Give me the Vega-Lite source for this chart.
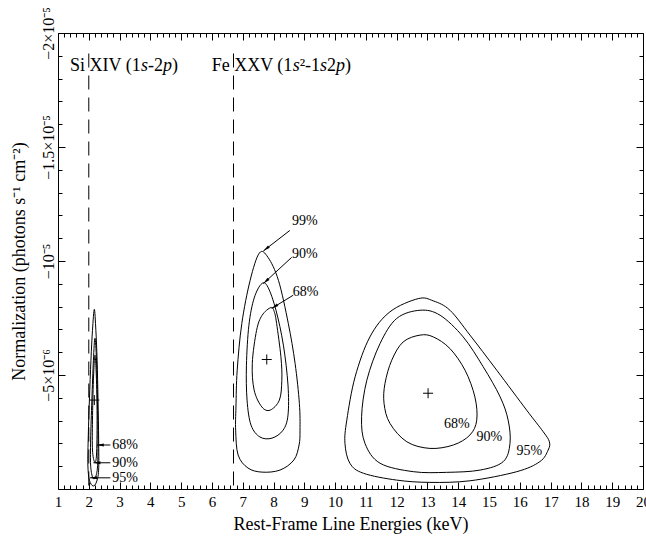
{
  "$schema": "https://vega.github.io/schema/vega-lite/v6.json",
  "width": 585,
  "height": 456,
  "autosize": {"type": "none"},
  "padding": {"left": 58, "top": 33, "right": 3, "bottom": 48},
  "background": "white",
  "config": {
    "view": {"stroke": "black", "strokeWidth": 1},
    "axis": {
      "labelFont": "Liberation Serif",
      "titleFont": "Liberation Serif",
      "labelColor": "black",
      "titleColor": "black",
      "tickColor": "black",
      "tickWidth": 1,
      "domain": false,
      "grid": false,
      "titleFontWeight": "normal",
      "labelFlush": false,
      "labelOverlap": false
    },
    "text": {"font": "Liberation Serif", "color": "black"}
  },
  "datasets": {
    "contours": [
      {"line": "Fe XXV 95%", "i": 0, "energy": 12.70, "norm": -8.35e-6},
      {"line": "Fe XXV 95%", "i": 1, "energy": 11.78, "norm": -7.77e-6},
      {"line": "Fe XXV 95%", "i": 2, "energy": 11.13, "norm": -6.67e-6},
      {"line": "Fe XXV 95%", "i": 3, "energy": 10.65, "norm": -4.92e-6},
      {"line": "Fe XXV 95%", "i": 4, "energy": 10.38, "norm": -3.02e-6},
      {"line": "Fe XXV 95%", "i": 5, "energy": 10.32, "norm": -2.00e-6},
      {"line": "Fe XXV 95%", "i": 6, "energy": 10.48, "norm": -1.13e-6},
      {"line": "Fe XXV 95%", "i": 7, "energy": 10.92, "norm": -0.69e-6},
      {"line": "Fe XXV 95%", "i": 8, "energy": 12.00, "norm": -0.39e-6},
      {"line": "Fe XXV 95%", "i": 9, "energy": 13.08, "norm": -0.29e-6},
      {"line": "Fe XXV 95%", "i": 10, "energy": 14.38, "norm": -0.36e-6},
      {"line": "Fe XXV 95%", "i": 11, "energy": 15.90, "norm": -0.76e-6},
      {"line": "Fe XXV 95%", "i": 12, "energy": 16.65, "norm": -1.20e-6},
      {"line": "Fe XXV 95%", "i": 13, "energy": 16.92, "norm": -1.71e-6},
      {"line": "Fe XXV 95%", "i": 14, "energy": 16.96, "norm": -2.07e-6},
      {"line": "Fe XXV 95%", "i": 15, "energy": 16.76, "norm": -2.51e-6},
      {"line": "Fe XXV 95%", "i": 16, "energy": 16.22, "norm": -3.46e-6},
      {"line": "Fe XXV 95%", "i": 17, "energy": 15.25, "norm": -5.21e-6},
      {"line": "Fe XXV 95%", "i": 18, "energy": 14.38, "norm": -6.75e-6},
      {"line": "Fe XXV 95%", "i": 19, "energy": 13.73, "norm": -7.84e-6},
      {"line": "Fe XXV 95%", "i": 20, "energy": 13.19, "norm": -8.25e-6},

      {"line": "Fe XXV 90%", "i": 0, "energy": 12.76, "norm": -7.84e-6},
      {"line": "Fe XXV 90%", "i": 1, "energy": 12.00, "norm": -7.48e-6},
      {"line": "Fe XXV 90%", "i": 2, "energy": 11.46, "norm": -6.38e-6},
      {"line": "Fe XXV 90%", "i": 3, "energy": 11.03, "norm": -4.77e-6},
      {"line": "Fe XXV 90%", "i": 4, "energy": 10.86, "norm": -3.17e-6},
      {"line": "Fe XXV 90%", "i": 5, "energy": 10.97, "norm": -2.00e-6},
      {"line": "Fe XXV 90%", "i": 6, "energy": 11.46, "norm": -1.13e-6},
      {"line": "Fe XXV 90%", "i": 7, "energy": 12.54, "norm": -0.76e-6},
      {"line": "Fe XXV 90%", "i": 8, "energy": 13.62, "norm": -0.73e-6},
      {"line": "Fe XXV 90%", "i": 9, "energy": 14.71, "norm": -0.83e-6},
      {"line": "Fe XXV 90%", "i": 10, "energy": 15.46, "norm": -1.20e-6},
      {"line": "Fe XXV 90%", "i": 11, "energy": 15.68, "norm": -2.00e-6},
      {"line": "Fe XXV 90%", "i": 12, "energy": 15.62, "norm": -3.02e-6},
      {"line": "Fe XXV 90%", "i": 13, "energy": 15.36, "norm": -4.04e-6},
      {"line": "Fe XXV 90%", "i": 14, "energy": 14.81, "norm": -5.36e-6},
      {"line": "Fe XXV 90%", "i": 15, "energy": 14.16, "norm": -6.67e-6},
      {"line": "Fe XXV 90%", "i": 16, "energy": 13.41, "norm": -7.62e-6},

      {"line": "Fe XXV 68%", "i": 0, "energy": 12.76, "norm": -6.75e-6},
      {"line": "Fe XXV 68%", "i": 1, "energy": 12.21, "norm": -6.45e-6},
      {"line": "Fe XXV 68%", "i": 2, "energy": 11.84, "norm": -5.65e-6},
      {"line": "Fe XXV 68%", "i": 3, "energy": 11.62, "norm": -4.63e-6},
      {"line": "Fe XXV 68%", "i": 4, "energy": 11.59, "norm": -3.75e-6},
      {"line": "Fe XXV 68%", "i": 5, "energy": 11.78, "norm": -2.88e-6},
      {"line": "Fe XXV 68%", "i": 6, "energy": 12.33, "norm": -2.07e-6},
      {"line": "Fe XXV 68%", "i": 7, "energy": 13.08, "norm": -1.78e-6},
      {"line": "Fe XXV 68%", "i": 8, "energy": 13.84, "norm": -1.93e-6},
      {"line": "Fe XXV 68%", "i": 9, "energy": 14.38, "norm": -2.37e-6},
      {"line": "Fe XXV 68%", "i": 10, "energy": 14.60, "norm": -3.02e-6},
      {"line": "Fe XXV 68%", "i": 11, "energy": 14.54, "norm": -4.04e-6},
      {"line": "Fe XXV 68%", "i": 12, "energy": 14.22, "norm": -5.21e-6},
      {"line": "Fe XXV 68%", "i": 13, "energy": 13.73, "norm": -6.16e-6},
      {"line": "Fe XXV 68%", "i": 14, "energy": 13.19, "norm": -6.67e-6},

      {"line": "6.7 keV 99%", "i": 0, "energy": 7.54, "norm": -10.35e-6},
      {"line": "6.7 keV 99%", "i": 1, "energy": 7.24, "norm": -9.15e-6},
      {"line": "6.7 keV 99%", "i": 2, "energy": 6.97, "norm": -7.26e-6},
      {"line": "6.7 keV 99%", "i": 3, "energy": 6.82, "norm": -5.21e-6},
      {"line": "6.7 keV 99%", "i": 4, "energy": 6.78, "norm": -3.60e-6},
      {"line": "6.7 keV 99%", "i": 5, "energy": 6.77, "norm": -2.58e-6},
      {"line": "6.7 keV 99%", "i": 6, "energy": 6.85, "norm": -1.49e-6},
      {"line": "6.7 keV 99%", "i": 7, "energy": 7.17, "norm": -0.92e-6},
      {"line": "6.7 keV 99%", "i": 8, "energy": 7.63, "norm": -0.74e-6},
      {"line": "6.7 keV 99%", "i": 9, "energy": 8.21, "norm": -0.83e-6},
      {"line": "6.7 keV 99%", "i": 10, "energy": 8.66, "norm": -1.27e-6},
      {"line": "6.7 keV 99%", "i": 11, "energy": 8.83, "norm": -1.93e-6},
      {"line": "6.7 keV 99%", "i": 12, "energy": 8.86, "norm": -2.58e-6},
      {"line": "6.7 keV 99%", "i": 13, "energy": 8.84, "norm": -3.75e-6},
      {"line": "6.7 keV 99%", "i": 14, "energy": 8.70, "norm": -5.51e-6},
      {"line": "6.7 keV 99%", "i": 15, "energy": 8.48, "norm": -7.26e-6},
      {"line": "6.7 keV 99%", "i": 16, "energy": 8.16, "norm": -9.15e-6},
      {"line": "6.7 keV 99%", "i": 17, "energy": 7.82, "norm": -10.16e-6},

      {"line": "6.7 keV 90%", "i": 0, "energy": 7.62, "norm": -9.01e-6},
      {"line": "6.7 keV 90%", "i": 1, "energy": 7.37, "norm": -8.37e-6},
      {"line": "6.7 keV 90%", "i": 2, "energy": 7.20, "norm": -7.18e-6},
      {"line": "6.7 keV 90%", "i": 3, "energy": 7.12, "norm": -5.43e-6},
      {"line": "6.7 keV 90%", "i": 4, "energy": 7.14, "norm": -3.90e-6},
      {"line": "6.7 keV 90%", "i": 5, "energy": 7.27, "norm": -2.80e-6},
      {"line": "6.7 keV 90%", "i": 6, "energy": 7.56, "norm": -2.28e-6},
      {"line": "6.7 keV 90%", "i": 7, "energy": 7.95, "norm": -2.23e-6},
      {"line": "6.7 keV 90%", "i": 8, "energy": 8.31, "norm": -2.58e-6},
      {"line": "6.7 keV 90%", "i": 9, "energy": 8.47, "norm": -3.24e-6},
      {"line": "6.7 keV 90%", "i": 10, "energy": 8.47, "norm": -4.56e-6},
      {"line": "6.7 keV 90%", "i": 11, "energy": 8.32, "norm": -6.31e-6},
      {"line": "6.7 keV 90%", "i": 12, "energy": 8.08, "norm": -7.84e-6},
      {"line": "6.7 keV 90%", "i": 13, "energy": 7.82, "norm": -8.85e-6},

      {"line": "6.7 keV 68%", "i": 0, "energy": 7.92, "norm": -7.96e-6},
      {"line": "6.7 keV 68%", "i": 1, "energy": 7.63, "norm": -7.62e-6},
      {"line": "6.7 keV 68%", "i": 2, "energy": 7.45, "norm": -6.96e-6},
      {"line": "6.7 keV 68%", "i": 3, "energy": 7.31, "norm": -5.51e-6},
      {"line": "6.7 keV 68%", "i": 4, "energy": 7.37, "norm": -4.34e-6},
      {"line": "6.7 keV 68%", "i": 5, "energy": 7.62, "norm": -3.60e-6},
      {"line": "6.7 keV 68%", "i": 6, "energy": 7.89, "norm": -3.46e-6},
      {"line": "6.7 keV 68%", "i": 7, "energy": 8.19, "norm": -3.90e-6},
      {"line": "6.7 keV 68%", "i": 8, "energy": 8.27, "norm": -4.77e-6},
      {"line": "6.7 keV 68%", "i": 9, "energy": 8.24, "norm": -5.80e-6},
      {"line": "6.7 keV 68%", "i": 10, "energy": 8.10, "norm": -7.26e-6},
      {"line": "6.7 keV 68%", "i": 11, "energy": 8.03, "norm": -7.75e-6},

      {"line": "Si 95%", "i": 0, "energy": 2.18, "norm": -7.88e-6},
      {"line": "Si 95%", "i": 1, "energy": 2.12, "norm": -6.96e-6},
      {"line": "Si 95%", "i": 2, "energy": 2.07, "norm": -5.65e-6},
      {"line": "Si 95%", "i": 3, "energy": 2.02, "norm": -3.90e-6},
      {"line": "Si 95%", "i": 4, "energy": 1.98, "norm": -2.15e-6},
      {"line": "Si 95%", "i": 5, "energy": 1.97, "norm": -1.05e-6},
      {"line": "Si 95%", "i": 6, "energy": 2.02, "norm": -0.39e-6},
      {"line": "Si 95%", "i": 7, "energy": 2.14, "norm": -0.13e-6},
      {"line": "Si 95%", "i": 8, "energy": 2.25, "norm": -0.31e-6},
      {"line": "Si 95%", "i": 9, "energy": 2.32, "norm": -0.83e-6},
      {"line": "Si 95%", "i": 10, "energy": 2.32, "norm": -2.15e-6},
      {"line": "Si 95%", "i": 11, "energy": 2.30, "norm": -3.90e-6},
      {"line": "Si 95%", "i": 12, "energy": 2.27, "norm": -5.65e-6},
      {"line": "Si 95%", "i": 13, "energy": 2.23, "norm": -6.96e-6},

      {"line": "Si 90%", "i": 0, "energy": 2.20, "norm": -6.61e-6},
      {"line": "Si 90%", "i": 1, "energy": 2.15, "norm": -5.65e-6},
      {"line": "Si 90%", "i": 2, "energy": 2.10, "norm": -3.90e-6},
      {"line": "Si 90%", "i": 3, "energy": 2.06, "norm": -2.15e-6},
      {"line": "Si 90%", "i": 4, "energy": 2.06, "norm": -1.05e-6},
      {"line": "Si 90%", "i": 5, "energy": 2.12, "norm": -0.53e-6},
      {"line": "Si 90%", "i": 6, "energy": 2.20, "norm": -0.48e-6},
      {"line": "Si 90%", "i": 7, "energy": 2.28, "norm": -0.92e-6},
      {"line": "Si 90%", "i": 8, "energy": 2.30, "norm": -2.15e-6},
      {"line": "Si 90%", "i": 9, "energy": 2.28, "norm": -3.90e-6},
      {"line": "Si 90%", "i": 10, "energy": 2.25, "norm": -5.65e-6},

      {"line": "Si 68%", "i": 0, "energy": 2.20, "norm": -5.87e-6},
      {"line": "Si 68%", "i": 1, "energy": 2.15, "norm": -4.77e-6},
      {"line": "Si 68%", "i": 2, "energy": 2.12, "norm": -3.02e-6},
      {"line": "Si 68%", "i": 3, "energy": 2.12, "norm": -1.71e-6},
      {"line": "Si 68%", "i": 4, "energy": 2.19, "norm": -1.18e-6},
      {"line": "Si 68%", "i": 5, "energy": 2.25, "norm": -1.49e-6},
      {"line": "Si 68%", "i": 6, "energy": 2.27, "norm": -3.02e-6},
      {"line": "Si 68%", "i": 7, "energy": 2.25, "norm": -4.77e-6}
    ],
    "bestfit": [
      {"line": "Si", "energy": 2.18, "norm": -3.90e-6},
      {"line": "6.7 keV", "energy": 7.78, "norm": -5.68e-6},
      {"line": "Fe XXV", "energy": 13.02, "norm": -4.20e-6}
    ],
    "lines": [
      {"ion": "Si XIV (1s-2p)", "energy": 2.0, "top": -1.91e-5, "bottom": 0},
      {"ion": "Fe XXV (1s²-1s2p)", "energy": 6.7, "top": -1.91e-5, "bottom": 0}
    ],
    "ions_upright": [
      {"text": "Si XIV (1", "energy": 1.390, "norm": -1.833e-5},
      {"text": "-2", "energy": 3.923, "norm": -1.833e-5},
      {"text": ")", "energy": 4.703, "norm": -1.833e-5},
      {"text": "Fe XXV (1", "energy": 5.992, "norm": -1.833e-5},
      {"text": "²-1", "energy": 8.850, "norm": -1.833e-5},
      {"text": "2", "energy": 9.740, "norm": -1.833e-5},
      {"text": ")", "energy": 10.325, "norm": -1.833e-5}
    ],
    "ions_italic": [
      {"text": "s", "energy": 3.696, "norm": -1.833e-5},
      {"text": "p", "energy": 4.410, "norm": -1.833e-5},
      {"text": "s", "energy": 8.623, "norm": -1.833e-5},
      {"text": "s", "energy": 9.513, "norm": -1.833e-5},
      {"text": "p", "energy": 10.032, "norm": -1.833e-5}
    ],
    "arrows": [
      {"arrow": "Si 68%", "i": 0, "energy": 2.70, "norm": -1.93e-6},
      {"arrow": "Si 68%", "i": 1, "energy": 2.26, "norm": -1.93e-6},
      {"arrow": "Si 90%", "i": 0, "energy": 2.70, "norm": -1.15e-6},
      {"arrow": "Si 90%", "i": 1, "energy": 2.15, "norm": -1.15e-6},
      {"arrow": "Si 95%", "i": 0, "energy": 2.70, "norm": -0.49e-6},
      {"arrow": "Si 95%", "i": 1, "energy": 2.04, "norm": -0.49e-6},
      {"arrow": "6.7 99%", "i": 0, "energy": 8.53, "norm": -11.34e-6},
      {"arrow": "6.7 99%", "i": 1, "energy": 7.67, "norm": -10.44e-6},
      {"arrow": "6.7 90%", "i": 0, "energy": 8.59, "norm": -10.16e-6},
      {"arrow": "6.7 90%", "i": 1, "energy": 7.67, "norm": -9.01e-6},
      {"arrow": "6.7 68%", "i": 0, "energy": 8.64, "norm": -8.50e-6},
      {"arrow": "6.7 68%", "i": 1, "energy": 7.94, "norm": -7.92e-6}
    ],
    "heads": [
      {"arrow": "Si 68%", "energy": 2.26, "norm": -1.93e-6, "angle": 270},
      {"arrow": "Si 90%", "energy": 2.15, "norm": -1.15e-6, "angle": 270},
      {"arrow": "Si 95%", "energy": 2.04, "norm": -0.49e-6, "angle": 270},
      {"arrow": "6.7 99%", "energy": 7.67, "norm": -10.44e-6, "angle": 232},
      {"arrow": "6.7 90%", "energy": 7.67, "norm": -9.01e-6, "angle": 227},
      {"arrow": "6.7 68%", "energy": 7.94, "norm": -7.92e-6, "angle": 238}
    ],
    "levels": [
      {"text": "68%", "energy": 3.18, "norm": -1.93e-6},
      {"text": "90%", "energy": 3.18, "norm": -1.15e-6},
      {"text": "95%", "energy": 3.18, "norm": -0.49e-6},
      {"text": "99%", "energy": 9.02, "norm": -11.74e-6},
      {"text": "90%", "energy": 9.02, "norm": -10.32e-6},
      {"text": "68%", "energy": 9.04, "norm": -8.66e-6},
      {"text": "68%", "energy": 13.95, "norm": -2.85e-6},
      {"text": "90%", "energy": 15.01, "norm": -2.29e-6},
      {"text": "95%", "energy": 16.31, "norm": -1.66e-6}
    ]
  },
  "resolve": {"axis": {"x": "independent", "y": "independent"}},
  "layer": [
    {
      "data": {"name": "contours"},
      "mark": {"type": "line", "interpolate": "cardinal-closed", "stroke": "black", "strokeWidth": 1},
      "encoding": {
        "x": {"field": "energy", "type": "quantitative", "scale": {"domain": [1, 20], "nice": false, "zero": false},
          "axis": {"orient": "bottom", "values": [1,2,3,4,5,6,7,8,9,10,11,12,13,14,15,16,17,18,19,20], "tickSize": -7, "labelPadding": 12, "labelFontSize": 15, "format": "d",
            "title": "Rest-Frame Line Energies (keV)", "titleFontSize": 18, "titlePadding": 6}},
        "y": {"field": "norm", "type": "quantitative", "scale": {"domain": [-2e-5, 0], "reverse": true, "nice": false, "zero": false},
          "axis": {"orient": "left", "values": [-2e-5, -1.5e-5, -1e-5, -5e-6], "tickSize": -7, "labelPadding": 9, "labelFontSize": 16,
            "labelAngle": -90, "labelAlign": "center", "labelBaseline": "bottom",
            "labelExpr": "datum.value < -1.9e-5 ? '−2×10⁻⁵' : datum.value < -1.4e-5 ? '−1.5×10⁻⁵' : datum.value < -0.9e-5 ? '−10⁻⁵' : '−5×10⁻⁶'",
            "title": "Normalization (photons s⁻¹ cm⁻²)", "titleFontSize": 18, "titlePadding": 12}},
        "detail": {"field": "line"},
        "order": {"field": "i", "type": "quantitative"}
      }
    },
    {
      "data": {"name": "lines"},
      "mark": {"type": "rule", "stroke": "black", "strokeWidth": 1, "strokeDash": [14, 8]},
      "encoding": {
        "x": {"field": "energy", "type": "quantitative", "scale": {"domain": [1, 20], "nice": false, "zero": false},
          "axis": {"orient": "bottom", "values": [1.2,1.4,1.6,1.8,2.2,2.4,2.6,2.8,3.2,3.4,3.6,3.8,4.2,4.4,4.6,4.8,5.2,5.4,5.6,5.8,6.2,6.4,6.6,6.8,7.2,7.4,7.6,7.8,8.2,8.4,8.6,8.8,9.2,9.4,9.6,9.8,10.2,10.4,10.6,10.8,11.2,11.4,11.6,11.8,12.2,12.4,12.6,12.8,13.2,13.4,13.6,13.8,14.2,14.4,14.6,14.8,15.2,15.4,15.6,15.8,16.2,16.4,16.6,16.8,17.2,17.4,17.6,17.8,18.2,18.4,18.6,18.8,19.2,19.4,19.6,19.8], "tickSize": -4, "labels": false, "title": null}},
        "y": {"field": "top", "type": "quantitative", "scale": {"domain": [-2e-5, 0], "reverse": true, "nice": false, "zero": false},
          "axis": {"orient": "left", "values": [-1.9e-5,-1.8e-5,-1.7e-5,-1.6e-5,-1.4e-5,-1.3e-5,-1.2e-5,-1.1e-5,-9e-6,-8e-6,-7e-6,-6e-6,-4e-6,-3e-6,-2e-6,-1e-6], "tickSize": -4, "labels": false, "title": null}},
        "y2": {"field": "bottom"}
      }
    },
    {
      "data": {"name": "bestfit"},
      "mark": {"type": "point", "shape": "M-1,0L1,0M0,-1L0,1", "size": 100, "filled": false, "stroke": "black", "strokeWidth": 1, "opacity": 1},
      "encoding": {
        "x": {"field": "energy", "type": "quantitative", "scale": {"domain": [1, 20], "nice": false, "zero": false},
          "axis": {"orient": "top", "values": [1,2,3,4,5,6,7,8,9,10,11,12,13,14,15,16,17,18,19,20], "tickSize": -7, "labels": false, "title": null}},
        "y": {"field": "norm", "type": "quantitative", "scale": {"domain": [-2e-5, 0], "reverse": true, "nice": false, "zero": false},
          "axis": {"orient": "right", "values": [-2e-5, -1.5e-5, -1e-5, -5e-6], "tickSize": -7, "labels": false, "title": null}}
      }
    },
    {
      "data": {"name": "arrows"},
      "mark": {"type": "line", "stroke": "black", "strokeWidth": 1},
      "encoding": {
        "x": {"field": "energy", "type": "quantitative", "scale": {"domain": [1, 20], "nice": false, "zero": false},
          "axis": {"orient": "top", "values": [1.2,1.4,1.6,1.8,2.2,2.4,2.6,2.8,3.2,3.4,3.6,3.8,4.2,4.4,4.6,4.8,5.2,5.4,5.6,5.8,6.2,6.4,6.6,6.8,7.2,7.4,7.6,7.8,8.2,8.4,8.6,8.8,9.2,9.4,9.6,9.8,10.2,10.4,10.6,10.8,11.2,11.4,11.6,11.8,12.2,12.4,12.6,12.8,13.2,13.4,13.6,13.8,14.2,14.4,14.6,14.8,15.2,15.4,15.6,15.8,16.2,16.4,16.6,16.8,17.2,17.4,17.6,17.8,18.2,18.4,18.6,18.8,19.2,19.4,19.6,19.8], "tickSize": -4, "labels": false, "title": null}},
        "y": {"field": "norm", "type": "quantitative", "scale": {"domain": [-2e-5, 0], "reverse": true, "nice": false, "zero": false},
          "axis": {"orient": "right", "values": [-1.9e-5,-1.8e-5,-1.7e-5,-1.6e-5,-1.4e-5,-1.3e-5,-1.2e-5,-1.1e-5,-9e-6,-8e-6,-7e-6,-6e-6,-4e-6,-3e-6,-2e-6,-1e-6], "tickSize": -4, "labels": false, "title": null}},
        "detail": {"field": "arrow"},
        "order": {"field": "i", "type": "quantitative"}
      }
    },
    {
      "data": {"name": "heads"},
      "mark": {"type": "point", "shape": "M0,0L1.5,7L-1.5,7Z", "size": 4, "filled": true, "fill": "black", "strokeWidth": 0, "opacity": 1},
      "encoding": {
        "x": {"field": "energy", "type": "quantitative", "scale": {"domain": [1, 20], "nice": false, "zero": false}, "axis": null},
        "y": {"field": "norm", "type": "quantitative", "scale": {"domain": [-2e-5, 0], "reverse": true, "nice": false, "zero": false}, "axis": null},
        "angle": {"field": "angle", "type": "quantitative", "scale": null}
      }
    },
    {
      "data": {"name": "levels"},
      "mark": {"type": "text", "fontSize": 14, "align": "center", "baseline": "middle"},
      "encoding": {
        "x": {"field": "energy", "type": "quantitative", "scale": {"domain": [1, 20], "nice": false, "zero": false}, "axis": null},
        "y": {"field": "norm", "type": "quantitative", "scale": {"domain": [-2e-5, 0], "reverse": true, "nice": false, "zero": false}, "axis": null},
        "text": {"field": "text"}
      }
    },
    {
      "data": {"name": "ions_upright"},
      "mark": {"type": "text", "fontSize": 18, "align": "left", "baseline": "alphabetic"},
      "encoding": {
        "x": {"field": "energy", "type": "quantitative", "scale": {"domain": [1, 20], "nice": false, "zero": false}, "axis": null},
        "y": {"field": "norm", "type": "quantitative", "scale": {"domain": [-2e-5, 0], "reverse": true, "nice": false, "zero": false}, "axis": null},
        "text": {"field": "text"}
      }
    },
    {
      "data": {"name": "ions_italic"},
      "mark": {"type": "text", "fontSize": 18, "fontStyle": "italic", "align": "left", "baseline": "alphabetic"},
      "encoding": {
        "x": {"field": "energy", "type": "quantitative", "scale": {"domain": [1, 20], "nice": false, "zero": false}, "axis": null},
        "y": {"field": "norm", "type": "quantitative", "scale": {"domain": [-2e-5, 0], "reverse": true, "nice": false, "zero": false}, "axis": null},
        "text": {"field": "text"}
      }
    }
  ]
}
